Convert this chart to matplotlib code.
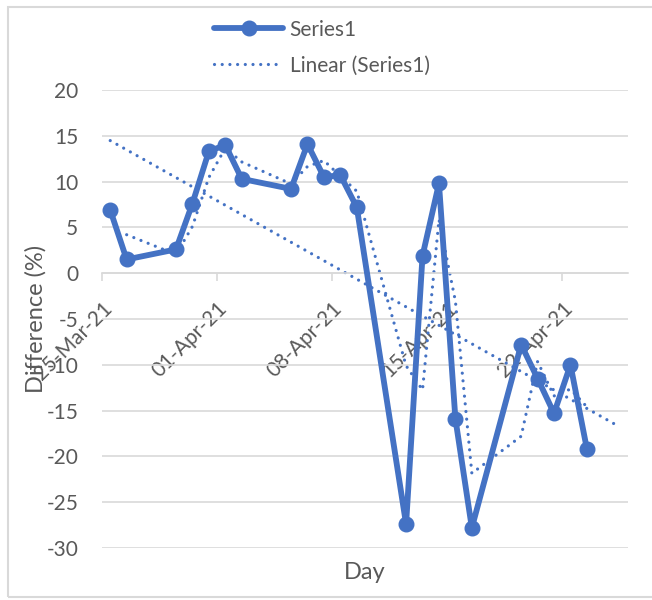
import numpy as np
import pandas as pd
import matplotlib
matplotlib.use("Agg")
import matplotlib.pyplot as plt
import matplotlib.dates as mdates
from matplotlib.patches import Rectangle

# data
dates = ['2021-03-25', '2021-03-26', '2021-03-29', '2021-03-30', '2021-03-31',
         '2021-04-01', '2021-04-02', '2021-04-05', '2021-04-06', '2021-04-07',
         '2021-04-08', '2021-04-09', '2021-04-12', '2021-04-13', '2021-04-14',
         '2021-04-15', '2021-04-16', '2021-04-19', '2021-04-20', '2021-04-21',
         '2021-04-22', '2021-04-23']
difference = [6.9, 1.5, 2.6, 7.6, 13.3, 14.0, 10.3, 9.2, 14.1, 10.5,
              10.7, 7.2, -27.4, 1.9, 9.8, -15.9, -27.8, -7.8, -11.5, -15.3,
              -10.0, -19.2]
series_name = "Series1"
trend_name = "Linear (Series1)"
yticks = [20, 15, 10, 5, 0, -5, -10, -15, -20, -25, -30]
xtick_dates = ['2021-03-25', '2021-04-01', '2021-04-08', '2021-04-15', '2021-04-22']

blue = "#4472C4"
grey = "#595959"
plt.rcParams['font.family'] = ['Lato', 'DejaVu Sans']
plt.rcParams['axes.unicode_minus'] = False

# points sit in the middle of each day (Excel date axis)
x = pd.to_datetime(dates) + pd.Timedelta(hours=12)
y = pd.Series(difference)
xnum = mdates.date2num(x)

fig = plt.figure(figsize=(6.52, 6.0), dpi=100)
ax = fig.add_axes([102 / 652, 1 - 548 / 600, (628 - 102) / 652, (548 - 90) / 600])

# chart border
fig.patches.append(Rectangle((8 / 652, 3 / 600), 1.2, 1 - 10 / 600, transform=fig.transFigure,
                             fill=False, edgecolor="#D9D9D9", linewidth=1.5))

dots = (0, (0.01, 2.4))

# main series
ax.plot(x, y, color=blue, linewidth=4.2, marker='o', markersize=10.5,
        solid_capstyle='round', label=series_name, zorder=3)

# 2-period moving average (no legend entry)
ma = y.rolling(2).mean()
ax.plot(x, ma, color=blue, linewidth=2.3, linestyle=dots,
        dash_capstyle='round', zorder=2)

# linear trend line, with a small forward forecast
k, b = np.polyfit(xnum, y, 1)
tx = np.array([xnum[0], xnum[-1] + 1.7])
ax.plot(mdates.num2date(tx), k * tx + b, color=blue, linewidth=2.3,
        linestyle=dots, dash_capstyle='round', label=trend_name, zorder=2)

ax.set_ylim(-30, 20)
ax.set_yticks(yticks)
ax.set_xlim(pd.Timestamp('2021-03-25'), pd.Timestamp('2021-04-26'))
ax.set_xticks(pd.to_datetime(xtick_dates))
ax.xaxis.set_major_formatter(mdates.DateFormatter('%d-%b-%y'))

ax.grid(axis='y', color="#D9D9D9", linewidth=1.2)
ax.set_axisbelow(True)
for s in ['top', 'right', 'left']:
    ax.spines[s].set_visible(False)
ax.spines['bottom'].set_position(('data', 0))
ax.spines['bottom'].set_color("#D9D9D9")
ax.spines['bottom'].set_linewidth(1.2)

ax.tick_params(axis='y', length=0, pad=17, labelsize=15, labelcolor=grey)
ax.tick_params(axis='x', length=6, width=1.2, color="#D9D9D9", pad=12,
               labelsize=15, labelcolor=grey)
for lab in ax.get_xticklabels():
    lab.set_rotation(45)
    lab.set_ha('right')
    lab.set_va('top')
    lab.set_rotation_mode('anchor')

ax.set_ylabel("Difference (%)", fontsize=17, color=grey)
ax.set_xlabel("Day", fontsize=17, color=grey)
ax.xaxis.set_label_coords(0.5, -0.03)
ax.yaxis.set_label_coords(-0.105, 0.5)

ax.legend(loc='upper center', bbox_to_anchor=(322 / 652, 1 - 1 / 600),
          bbox_transform=fig.transFigure, frameon=False, fontsize=15,
          labelcolor=grey, handlelength=3.3, handletextpad=0.3, labelspacing=0.75)

fig.savefig("out.png", dpi=100)
